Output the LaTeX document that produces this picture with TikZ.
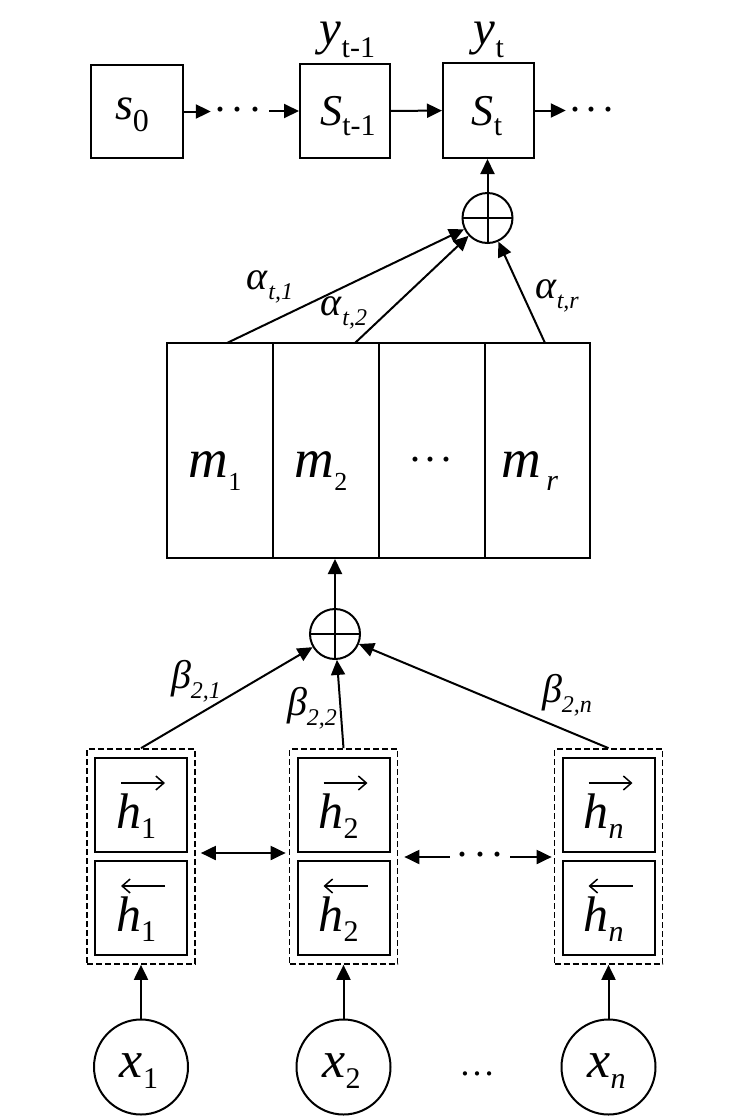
\documentclass[tikz,border=0pt]{standalone}
\usepackage{fontspec}
\setmainfont{Liberation Serif}
\usetikzlibrary{arrows.meta,shapes.geometric,fit}
% lowered subscript: drop, size, text
\newcommand\sbsx[3]{\raisebox{#1}{\fontsize{#2}{#2}\selectfont #3}}
\newcommand\fs[1]{\fontsize{#1}{#1}\selectfont}
\newcommand\threedots[1]{·\kern#1·\kern#1·}
\tikzset{
  lw/.style={line width=2pt},
  box/.style={draw, lw, minimum width=92pt, minimum height=93pt, inner sep=0pt},
  cell/.style={draw, lw, minimum width=106pt, minimum height=215pt, inner sep=0pt},
  hbox/.style={draw, lw, minimum width=92pt, minimum height=94pt, inner sep=0pt},
  dbox/.style={draw, line width=1.7pt, dash pattern=on 6pt off 3pt, inner xsep=7pt, inner ysep=8pt},
  sumc/.style={draw, lw, circle, minimum size=50pt, inner sep=0pt,
    path picture={\draw[lw] (path picture bounding box.north) -- (path picture bounding box.south)
      (path picture bounding box.west) -- (path picture bounding box.east);}},
  xc/.style={draw, lw, ellipse, minimum width=94pt, minimum height=95pt, inner sep=0pt},
  tip/.tip={Triangle[length=15pt,width=14pt]},
  arr/.style={lw, -tip},
  barr/.style={lw, tip-tip},
  vec/.style={line width=1.5pt, -{Straight Barb[length=8pt,width=14pt,line width=1.5pt]}},
  lab/.style={inner sep=0pt},
  dots/.style={inner sep=0pt, font=\fs{42}}
}
\begin{document}
\begin{tikzpicture}[x=1pt,y=-1pt]
\useasboundingbox (0,0) rectangle (747,1117);
% top row
\node[box] (s0) at (137,111.5) {};
\node[box, minimum width=90pt, minimum height=94pt] (s1) at (345,111) {};
\node[box, minimum width=91pt, minimum height=95pt] (st) at (488.5,110.5) {};
\node[lab] (s0t) at (132,115) {\fs{46}\textit{s}\sbsx{-0.25em}{32}{0}};
\node[lab] (s1t) at (348,116) {\fs{44}\textit{S}\sbsx{-0.22em}{30}{t-1}};
\node[lab] (stt) at (487,116) {\fs{44}\textit{S}\sbsx{-0.22em}{30}{t}};
\node[lab] (y1) at (347.5,40) {\fs{49}\textit{y}\sbsx{-0.28em}{30}{t-1}};
\node[lab] (y2) at (489,40) {\fs{49}\textit{y}\sbsx{-0.28em}{30}{t}};
\node[dots, anchor=base, inner xsep=2pt] (d1) at (238,123) {\threedots{4pt}};
\node[dots, anchor=base, inner xsep=2pt] (d2) at (592,123) {\threedots{3pt}};
\draw[arr] (s0) -- (s0 -| d1.west);
\draw[arr, shorten <=4pt] (d1.east |- s1) -- (s1);
\draw[arr] (s1) -- (st);
\draw[arr] (st) -- (st -| d2.west);
% upper sum
\node[sumc] (op1) at (487.5,218) {};
\draw[arr] (op1) -- (op1 |- st.south);
% memory
\node[cell] (c1) at (220,450.5) {};
\node[cell] (c2) at (326,450.5) {};
\node[cell] (c3) at (432,450.5) {};
\node[cell, minimum width=105pt] (c4) at (537.5,450.5) {};
\node[lab] (m1) at (215,471) {\fs{55}\textit{m}\sbsx{-0.24em}{26}{1}};
\node[lab] (m2) at (321,471) {\fs{55}\textit{m}\sbsx{-0.24em}{26}{2}};
\node[dots, anchor=base] (m3) at (431,473) {\threedots{2pt}};
\node[lab] (m4) at (530,471) {\fs{55}\textit{m}\kern5pt\sbsx{-0.24em}{30}{\textit{r}}};
\coordinate (a1) at (227,343);
\coordinate (a2) at (355,343);
\coordinate (a3) at (545,343);
\draw[arr] (a1) -- (op1);
\draw[arr] (a2) -- (op1);
\draw[arr] (a3) -- (op1);
\node[lab] (al1) at (270,287) {\fs{40}\textit{α}\sbsx{-0.24em}{24}{\textit{t,1}}};
\node[lab] (al2) at (344,313) {\fs{40}\textit{α}\sbsx{-0.24em}{24}{\textit{t,2}}};
\node[lab] (al3) at (557,296) {\fs{40}\textit{α}\sbsx{-0.24em}{24}{\textit{t,r}}};
% lower sum
\node[sumc] (op2) at (335,634) {};
\draw[arr] (op2) -- (op2 |- c2.south);
% h blocks
\node[hbox] (h1a) at (141,805) {};
\node[hbox] (h1b) at (141,908) {};
\node[hbox] (h2a) at (343.5,805) {};
\node[hbox] (h2b) at (343.5,908) {};
\node[hbox] (hna) at (608.5,805) {};
\node[hbox] (hnb) at (608.5,908) {};
\foreach \b/\s in {h1a/1,h1b/1,h2a/2,h2b/2,hna/\textit{n},hnb/\textit{n}}{
  \node[lab] (\b t) at ([shift={(-5,11)}]\b.center) {\fs{50}\textit{h}\sbsx{-0.2em}{30}{\s}};
}
\foreach \b in {h1a,h2a,hna}{
  \draw[vec] ([shift={(-20,-22)}]\b.center) -- ([shift={(24,-22)}]\b.center);
}
\foreach \b in {h1b,h2b,hnb}{
  \draw[vec] ([shift={(24,-22)}]\b.center) -- ([shift={(-20,-22)}]\b.center);
}
\node[dbox, fit=(h1a)(h1b)] (b1) {};
\node[dbox, fit=(h2a)(h2b)] (b2) {};
\node[dbox, fit=(hna)(hnb)] (bn) {};
\draw[barr, shorten <=5pt, shorten >=3pt] (b1.east |- 0,853) -- (b2.west |- 0,853);
\node[dots, anchor=base, inner xsep=5pt] (hd) at (480,868) {\threedots{4pt}};
\draw[lw, tip-, shorten <=6pt] (b2.east |- 0,857) -- (hd.west |- 0,857);
\draw[arr, shorten >=2pt] (hd.east |- 0,857) -- (bn.west |- 0,857);
\draw[arr] (b1.north) -- (op2);
\draw[arr] (b2.north) -- (op2);
\draw[arr] (bn.north) -- (op2);
\node[lab] (be1) at (196,681) {\fs{40}\textit{β}\sbsx{-0.24em}{24}{\textit{2,1}}};
\node[lab] (be2) at (312,708) {\fs{40}\textit{β}\sbsx{-0.24em}{24}{\textit{2,2}}};
\node[lab] (be3) at (567,695) {\fs{40}\textit{β}\sbsx{-0.24em}{24}{\textit{2,n}}};
% inputs
\node[xc] (x1) at (141,1067) {};
\node[xc] (x2) at (343.5,1067) {};
\node[xc] (xn) at (608.5,1067) {};
\node[lab] (x1t) at (139,1071) {\fs{52}\textit{x}\sbsx{-0.2em}{30}{1}};
\node[lab] (x2t) at (341.5,1071) {\fs{52}\textit{x}\sbsx{-0.2em}{30}{2}};
\node[lab] (xnt) at (606.5,1071) {\fs{52}\textit{x}\sbsx{-0.2em}{30}{\textit{n}}};
\node[lab, font=\fs{36}] (xd) at (477,1074) {…};
\draw[arr] (x1) -- (b1);
\draw[arr] (x2) -- (b2);
\draw[arr] (xn) -- (bn);
\end{tikzpicture}
\end{document}
